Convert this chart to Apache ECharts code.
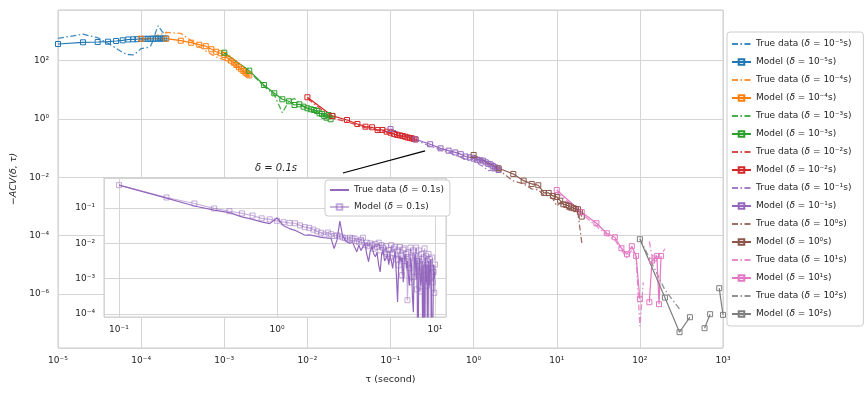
<!DOCTYPE html>
<html>
<head>
<meta charset="utf-8">
<script src="https://cdn.jsdelivr.net/npm/echarts@6/dist/echarts.min.js"></script>
<style>
  html, body { margin: 0; padding: 0; background: #fff; }
  #chart { width: 864px; height: 396px; }
</style>
</head>
<body>
<div id="chart"></div>
<script>
// lag multipliers: tau = delta * k
const lags = [1, 2, 3, 4, 5, 6, 7, 8, 9, 10, 11, 12, 13, 14, 15, 16, 17, 18, 19, 20]
const insetLags = Array.from({ length: 100 }, (_, i) => i + 1)

// log10(delta) for each resolution
const deltaExp = [-5, -4, -3, -2, -1, 0, 1, 2]
const deltaText = ['10⁻⁵', '10⁻⁴', '10⁻³', '10⁻²', '10⁻¹', '10⁰', '10¹', '10²']

// log10(-ACV), one value per lag (null = not drawn)
const blueTrue = [2.76, 2.90, 2.78, 2.59, 2.42, 2.27, 2.205, 2.19, 2.29, 2.41, 2.43, 2.445, 2.50, 2.70, 2.98, 3.19, 3.08, 2.98, 2.93, 2.91]
const blueModel = [2.565, 2.623, 2.634, 2.644, 2.668, 2.692, 2.72, 2.726, 2.73, 2.74, 2.742, 2.744, 2.746, 2.748, 2.749, 2.75, 2.751, 2.752, 2.753, 2.754]
const orangeTrue = [2.685, 2.96, 2.93, 2.68, 2.48, 2.33, 2.21, 2.12, 2.07, 2.02, 1.96, 1.90, 1.83, 1.77, 1.71, 1.66, 1.60, 1.55, 1.50, 1.46]
const orangeModel = [2.747, 2.747, 2.678, 2.61, 2.541, 2.49, 2.384, 2.30, 2.247, 2.188, 2.075, 1.995, 1.926, 1.846, 1.767, 1.70, 1.64, 1.58, 1.53, 1.49]
const greenTrue = [2.25, 1.62, 1.12, 0.82, 0.21, 0.61, 0.70, 0.53, 0.44, 0.36, 0.29, 0.25, 0.22, 0.17, 0.15, 0.13, 0.10, 0.10, 0.065, 0.065]
const greenModel = [2.267, 1.651, 1.161, 0.877, 0.671, 0.603, 0.476, 0.50, 0.418, 0.363, 0.329, 0.305, 0.27, 0.19, 0.168, 0.10, 0.041, 0.13, -0.014, 0.10]
const redTrue = [0.70, 0.02, -0.10, -0.22, -0.30, -0.33, -0.40, -0.42, -0.47, -0.50, -0.54, -0.57, -0.60, -0.62, -0.64, -0.66, -0.68, -0.70, -0.72, -0.74]
const redModel = [0.74, 0.10, -0.038, -0.175, -0.267, -0.288, -0.38, -0.38, -0.438, -0.473, -0.517, -0.551, -0.568, -0.586, -0.61, -0.637, -0.654, -0.664, -0.688, -0.705]
const purpleTrue = [
  -0.35, -0.72, -0.94, -1.06, -1.13, -1.25, -1.32, -1.39, -1.44, -1.28,
  -1.50, -1.58, -1.63, -1.70, -1.77, -1.76, -1.78, -1.80, -1.83, -1.84,
  -1.85, -1.86, -2.15, -1.90, -1.37, -1.77, -1.90, -1.96, -2.00, -1.95,
  -2.10, -2.24, -2.05, -2.20, -2.15, -2.00, -2.30, -2.52, -2.20, -2.10,
  -2.30, -2.38, -2.25, -2.60, -2.81, -2.30, -2.20, -2.50, -2.43, -2.30,
  -2.60, -2.35, -2.50, -2.71, -2.40, -2.25, -2.90, -3.66, -2.60, -2.35,
  -2.52, -2.40, -3.10, -2.45, -2.30, -2.71, -2.50, -2.95, -3.19, -2.40,
  -2.60, -3.50, -3.95, -2.50, -2.30, -3.00, -2.45, -6.0, -2.70, -2.40,
  -3.20, -3.00, -2.50, -6.0, -2.60, -6.0, -2.40, -3.10, -2.60, -6.0,
  -2.50, -3.19, -2.70, -2.45, -3.40, -6.0, -6.0, -2.60, -3.00, -2.80
]
const purpleModel = [
  -0.35, -0.70, -0.87, -1.01, -1.09, -1.15, -1.21, -1.29, -1.32, -1.36,
  -1.40, -1.42, -1.43, -1.49, -1.54, -1.56, -1.61, -1.66, -1.70, -1.75,
  -1.69, -1.74, -1.79, -1.77, -1.80, -1.83, -1.85, -1.89, -1.84, -1.86,
  -1.86, -1.93, -1.96, -1.90, -1.84, -2.05, -1.98, -2.08, -2.00, -2.05,
  -2.15, -2.02, -2.10, -1.98, -2.20, -2.05, -2.12, -2.25, -2.08, -2.30,
  -2.19, -2.40, -2.05, -2.28, -2.15, -2.10, -2.45, -2.20, -2.62, -2.10,
  -2.35, -2.90, -2.18, -2.14, -2.50, -2.30, -3.61, -2.25, -2.70, -2.12,
  -3.10, -2.40, -2.20, -2.95, -2.35, -2.12, -3.30, -2.50, -2.20, -2.80,
  -3.36, -2.30, -2.60, -6.0, -2.40, -2.14, -2.90, -2.35, -3.20, -2.60,
  -2.30, -3.00, -2.45, -6.0, -2.70, -2.40, -3.10, -2.81, -3.40, -2.60
]
const brownTrue = [-1.305, -1.75, -2.127, -2.229, -2.40, -2.435, -2.606, -2.64, -2.743, -2.983, -2.88, -2.983, -3.086, -3.12, -3.12, -3.188, -3.154, -3.223, -3.291, -4.25]
const brownModel = [-1.236, -1.692, -1.887, -2.116, -2.229, -2.274, -2.538, -2.538, -2.64, -2.675, -2.801, -2.925, -2.949, -2.983, -3.034, -3.062, -3.086, -3.096, -3.188, -3.349]
const pinkTrue = [-2.503, -3.257, -3.668, -3.976, -4.147, -4.49, -4.764, -4.49, -4.72, -7.1, -5.6, null, -4.2, -4.7, null, null, null, null, -4.55, -4.45]
const pinkModel = [-2.435, -3.199, -3.575, -3.918, -4.055, -4.432, -4.637, -4.363, -4.695, -6.178, null, null, -6.281, -4.856, -4.781, -4.695, -6.349, -4.695, null, null]
const grayTrue = [-4.10, -5.86, -6.51]
const grayModel = [-4.123, -6.123, -7.308, -6.795, null, -7.171, -6.692, null, -5.801, -6.716]

const COLORS = ['#1f77b4', '#ff7f0e', '#2ca02c', '#d62728', '#9467bd', '#8c564b', '#e377c2', '#7f7f7f']
const trueSets = [blueTrue, orangeTrue, greenTrue, redTrue, purpleTrue.slice(0, 20), brownTrue, pinkTrue, grayTrue]
const modelSets = [blueModel, orangeModel, greenModel, redModel, purpleModel.slice(0, 20), brownModel, pinkModel, grayModel]

const FONT = 'DejaVu Sans'
const TXT = '#262626'
const DASHDOT = [6, 2.5, 1.5, 2.5]
const CLEAR = 'rgba(255,255,255,0)'
const SUP = { '-': '⁻', '0': '⁰', '1': '¹', '2': '²', '3': '³', '4': '⁴', '5': '⁵', '6': '⁶', '7': '⁷', '8': '⁸', '9': '⁹' }

function powLabel(v) {
  const e = Math.round(v)
  if (Math.abs(v - e) > 1e-6) return ''
  return '10' + String(e).split('').map(c => SUP[c]).join('')
}

function toPoints(expo, vals, ks) {
  return vals.map((v, i) => [expo + Math.log10(ks[i]), v === null ? '-' : v])
}

// italic delta in legend entries
function legendText(name) {
  return name.replace('δ', '{i|δ}')
}
const legendTextStyle = {
  fontSize: 9, color: TXT, fontFamily: FONT, lineHeight: 10,
  rich: { i: { fontSize: 9, color: TXT, fontFamily: FONT, fontStyle: 'italic', lineHeight: 10 } }
}

const series = []
const legendNames = []
deltaExp.forEach((d, i) => {
  const c = COLORS[i]
  const tName = 'True data (δ = ' + deltaText[i] + 's)'
  const mName = 'Model (δ = ' + deltaText[i] + 's)'
  legendNames.push(tName, mName)
  series.push({
    name: tName,
    type: 'line',
    data: toPoints(d, trueSets[i], lags),
    symbol: 'none',
    lineStyle: { color: c, width: 1.3, type: DASHDOT, opacity: 0.85 },
    itemStyle: { color: CLEAR, borderColor: CLEAR, borderWidth: 0 },
    z: 2
  })
  series.push({
    name: mName,
    type: 'line',
    data: toPoints(d, modelSets[i], lags),
    symbol: 'rect',
    symbolSize: 5,
    lineStyle: { color: c, width: 1.2 },
    itemStyle: { color: CLEAR, borderColor: c, borderWidth: 1 },
    z: 3
  })
})

// annotation arrow pointing at the delta = 0.1s curve
series.push({
  name: 'arrow',
  type: 'line',
  data: [],
  markLine: {
    silent: true,
    symbol: ['none', 'none'],
    label: { show: false },
    lineStyle: { color: '#000', width: 1.2, type: 'solid' },
    data: [[{ coord: [-1.572, -1.853] }, { coord: [-0.584, -1.099] }]]
  }
})

// inset: delta = 0.1s
series.push({
  name: 'True data (δ = 0.1s)',
  type: 'line',
  xAxisIndex: 1,
  yAxisIndex: 1,
  data: toPoints(-1, purpleTrue, insetLags),
  symbol: 'none',
  lineStyle: { color: '#9467bd', width: 1.2 },
  itemStyle: { color: CLEAR, borderColor: CLEAR, borderWidth: 0 },
  z: 6
})
series.push({
  name: 'Model (δ = 0.1s)',
  type: 'line',
  xAxisIndex: 1,
  yAxisIndex: 1,
  data: toPoints(-1, purpleModel, insetLags),
  symbol: 'rect',
  symbolSize: 5,
  lineStyle: { color: 'rgba(148,103,189,0.5)', width: 1.2 },
  itemStyle: { color: CLEAR, borderColor: 'rgba(148,103,189,0.55)', borderWidth: 1 },
  z: 6
})

const chart = echarts.init(document.getElementById('chart'))
chart.setOption({
  animation: false,
  backgroundColor: '#fff',
  textStyle: { fontFamily: FONT, color: TXT },
  grid: [
    { left: 58, right: 141, top: 10, bottom: 48, show: true, borderColor: '#cccccc', borderWidth: 1, backgroundColor: 'transparent' },
    { left: 104, top: 178, width: 342, height: 139, show: true, borderColor: '#cccccc', borderWidth: 1, backgroundColor: '#fff', z: 4 }
  ],
  xAxis: [
    {
      type: 'value', gridIndex: 0, min: -5, max: 3, interval: 1,
      axisLine: { show: false }, axisTick: { show: false },
      splitLine: { lineStyle: { color: '#d5d5d5', width: 1 } },
      axisLabel: { formatter: powLabel, fontSize: 9, color: TXT, margin: 8, fontFamily: FONT },
      name: 'τ (second)', nameLocation: 'middle', nameGap: 27,
      nameTextStyle: { fontSize: 9.5, color: TXT, fontFamily: FONT }
    },
    {
      type: 'value', gridIndex: 1, min: -1.095, max: 1.07, minInterval: 1, maxInterval: 1, splitNumber: 2,
      axisLine: { show: false }, axisTick: { show: false },
      splitLine: { lineStyle: { color: '#d5d5d5', width: 1 } },
      axisLabel: { formatter: powLabel, fontSize: 9, color: TXT, margin: 8, fontFamily: FONT, showMinLabel: false, showMaxLabel: false },
      z: 5
    }
  ],
  yAxis: [
    {
      type: 'value', gridIndex: 0, min: -7.85, max: 3.73, minInterval: 2, maxInterval: 2, splitNumber: 6,
      axisLine: { show: false }, axisTick: { show: false },
      splitLine: { lineStyle: { color: '#d5d5d5', width: 1 } },
      axisLabel: { formatter: powLabel, fontSize: 9, color: TXT, margin: 9, fontFamily: FONT, showMinLabel: false, showMaxLabel: false },
      name: '−ACV(δ, τ)', nameLocation: 'middle', nameGap: 36,
      nameTextStyle: { fontSize: 9.5, color: TXT, fontStyle: 'italic', fontFamily: FONT }
    },
    {
      type: 'value', gridIndex: 1, min: -4.085, max: -0.148, minInterval: 1, maxInterval: 1, splitNumber: 4,
      axisLine: { show: false }, axisTick: { show: false },
      splitLine: { lineStyle: { color: '#d5d5d5', width: 1 } },
      axisLabel: { formatter: powLabel, fontSize: 9, color: TXT, margin: 9, fontFamily: FONT, showMinLabel: false, showMaxLabel: false },
      z: 5
    }
  ],
  legend: [
    {
      data: legendNames,
      orient: 'vertical',
      left: 727,
      top: 32,
      padding: [7, 12, 7, 4],
      itemWidth: 19,
      itemHeight: 7,
      itemGap: 8,
      selectedMode: false,
      backgroundColor: '#fff',
      borderColor: '#cccccc',
      borderWidth: 1,
      borderRadius: 3,
      formatter: legendText,
      textStyle: legendTextStyle
    },
    {
      data: ['True data (δ = 0.1s)', 'Model (δ = 0.1s)'],
      orient: 'vertical',
      left: 325,
      top: 180,
      padding: [5, 6, 4, 4],
      itemWidth: 19,
      itemHeight: 7,
      itemGap: 7,
      selectedMode: false,
      backgroundColor: '#fff',
      borderColor: '#cccccc',
      borderWidth: 1,
      borderRadius: 3,
      z: 7,
      formatter: legendText,
      textStyle: legendTextStyle
    }
  ],
  graphic: [
    {
      type: 'text',
      x: 276,
      y: 168,
      z: 10,
      style: {
        text: 'δ = 0.1s',
        fontSize: 10,
        fontStyle: 'italic',
        fontFamily: FONT,
        fill: TXT,
        align: 'center',
        verticalAlign: 'middle'
      }
    }
  ],
  series: series
})
</script>
</body>
</html>
